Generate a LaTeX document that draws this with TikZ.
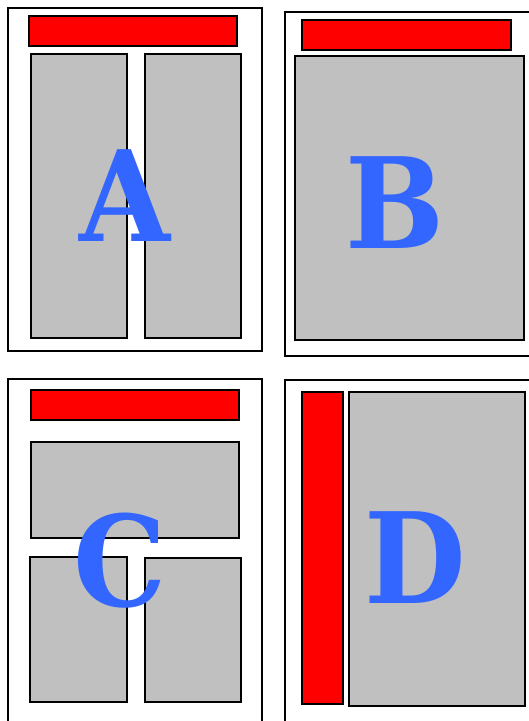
\documentclass[tikz,border=0pt]{standalone}
\usepackage{fontspec}
\usepackage{tikz}
\newfontfamily\letterfont[FakeStretch=0.93]{DejaVu Serif}
\definecolor{PageRed}{HTML}{FF0000}
\definecolor{PageGray}{HTML}{C0C0C0}
\definecolor{PageBlue}{HTML}{3366FF}

\begin{document}
\begin{tikzpicture}[x=1pt,y=-1pt]
    \tikzset{pagebox/.style={draw=black,line width=1.4pt,fill=white},
      headbar/.style={draw=black,line width=1.1pt,fill=PageRed},
      colbox/.style={draw=black,line width=1.1pt,fill=PageGray},
      pageletter/.style={anchor=base,inner sep=0pt,text=PageBlue,
        font=\letterfont\bfseries\fontsize{126}{126}\selectfont}}
    \useasboundingbox (0,0) rectangle (529,721);
    % layout A
    \draw[pagebox] (8,8) rectangle (262,351);
    \draw[headbar] (29,16) rectangle (237,46);
    \draw[colbox] (31,54) rectangle (127,338);
    \draw[colbox] (145,54) rectangle (241,338);
    \node[pageletter] (la) at (125,241) {A};
    % layout B
    \draw[pagebox] (285,12) rectangle (531,356);
    \draw[headbar] (302,20) rectangle (511,50);
    \draw[colbox] (295,56) rectangle (524,340);
    \node[pageletter] (lb) at (395,248) {B};
    % layout C
    \draw[pagebox] (8,379) rectangle (262,725);
    \draw[headbar] (31,390) rectangle (239,420);
    \draw[colbox] (31,442) rectangle (239,538);
    \draw[colbox] (30,557) rectangle (127,702);
    \draw[colbox] (145,558) rectangle (241,702);
    \node[pageletter] (lc) at (120,606) {C};
    % layout D
    \draw[pagebox] (285,380) rectangle (531,725);
    \draw[headbar] (302,392) rectangle (343,704);
    \draw[colbox] (349,392) rectangle (525,706);
    \node[pageletter] (ld) at (415,603) {D};
  \end{tikzpicture}
\end{document}
